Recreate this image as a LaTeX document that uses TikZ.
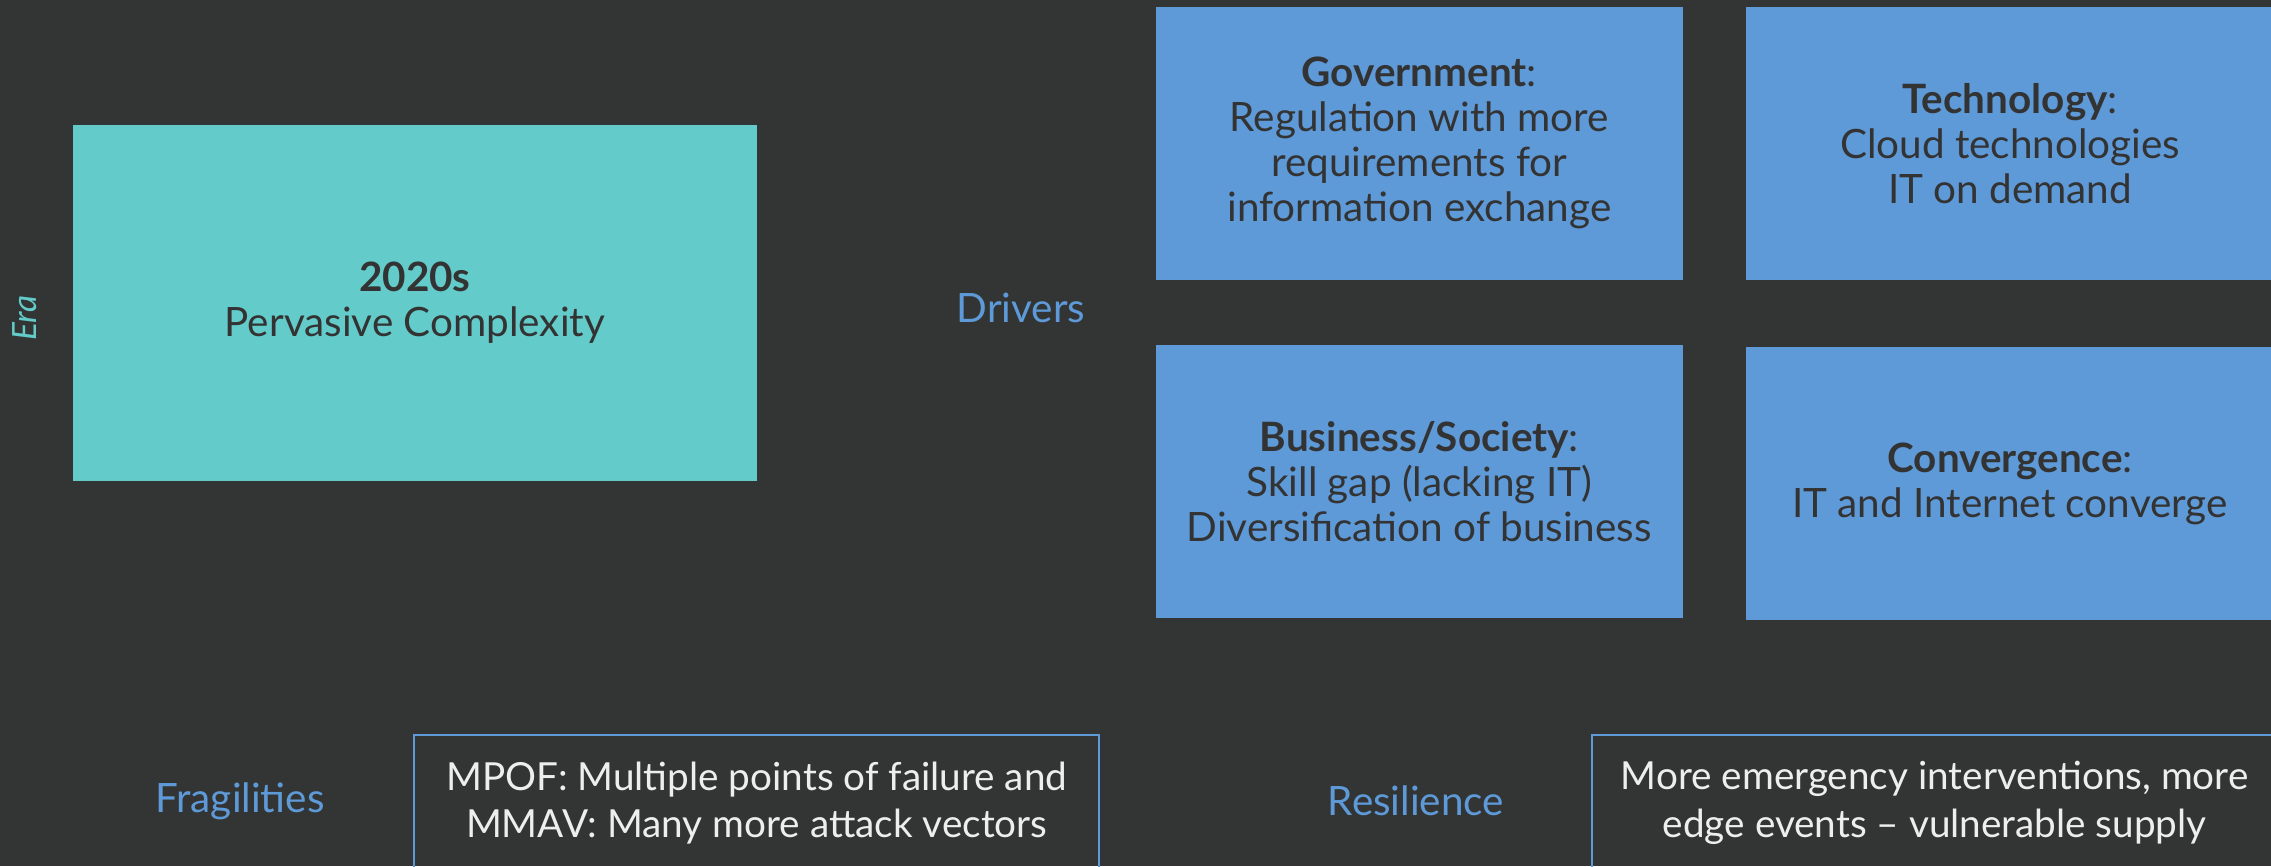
\documentclass[tikz,border=0pt]{standalone}
\usepackage{fontspec}
\setmainfont{Lato}
\usetikzlibrary{positioning}
\definecolor{bg}{HTML}{333535}
\definecolor{eraC}{HTML}{63CBC9}
\definecolor{drv}{HTML}{5E9AD8}
\definecolor{ink}{HTML}{333333}
\definecolor{wht}{HTML}{EEEEEE}
\begin{document}
\begin{tikzpicture}[x=0.01cm,y=-0.01cm,font=\fontsize{11.5}{12.8}\selectfont,
		drvbox/.style={fill=drv,text=ink,align=center,minimum width=5.27cm,minimum height=2.73cm,inner sep=0pt},
		lbl/.style={text=drv,inner sep=0pt},
		outbox/.style={draw=drv,line width=0.02cm,text=wht,align=center,minimum width=6.85cm,minimum height=1.36cm,inner sep=0pt,font=\fontsize{11}{13.6}\selectfont}]
		\fill[bg](0,0)rectangle(2271,866);
		\useasboundingbox(0,0)rectangle(2271,866);
		\clip(0,0)rectangle(2271,866);
		% era
		\node[fill=eraC,text=ink,align=center,minimum width=6.84cm,minimum height=3.56cm,inner sep=0pt,anchor=north west](era) at (72,124){\textbf{2020s}\\Pervasive Complexity};
		\node[rotate=90,text=eraC,inner sep=0pt,font=\fontsize{9.5}{10}\selectfont\itshape](eralbl) at (25,318){Era};
		% drivers
		\node[lbl](drivers) at (1021,308){Drivers};
		\node[drvbox,anchor=north west](gov) at (1155,6){\textbf{Government}:\\Regulation with more\\requirements for\\information exchange};
		\node[drvbox,right=0.62cm of gov](tech){\textbf{Technology}:\\Cloud technologies\\IT on demand};
		\node[drvbox,below=0.64cm of gov](bus){\textbf{Business/Society}:\\Skill gap (lacking IT)\\Diversification of business};
		\node[drvbox,below=0.66cm of tech](conv){\textbf{Convergence}:\\IT and Internet converge};
		% fragilities / resilience
		\node[lbl](frag) at (240,801){Fragilities};
		\node[outbox,anchor=north west](mpof) at (413,734){MPOF: Multiple points of failure and\\MMAV: Many more attack vectors};
		\node[lbl](res) at (1416,801){Resilience};
		\node[outbox,anchor=north west](emer) at (1591,734){More emergency interventions, more\\edge events -- vulnerable supply};
\end{tikzpicture}
\end{document}
